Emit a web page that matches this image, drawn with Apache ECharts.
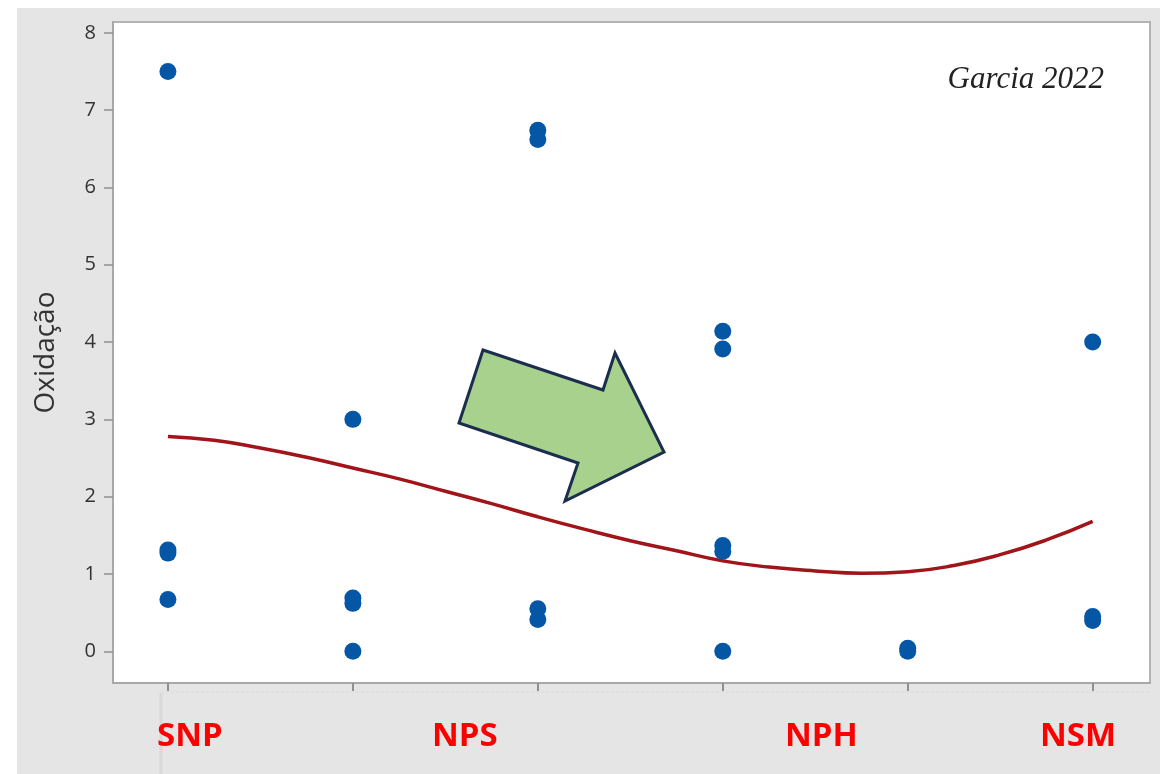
<!DOCTYPE html>
<html>
<head>
<meta charset="utf-8">
<script src="https://cdn.jsdelivr.net/npm/echarts@6/dist/echarts.min.js"></script>
<style>
  html, body { margin: 0; padding: 0; background: #fff; }
  #chart { width: 1160px; height: 774px; }
</style>
</head>
<body>
<div id="chart"></div>
<script>
// pontos observados (x = posição do grupo, y = oxidação)
var pointX = [0, 0, 0, 0, 1, 1, 1, 1, 2, 2, 2, 2, 3, 3, 3, 3, 3, 4, 4, 5, 5, 5];
var pointY = [7.5, 1.31, 1.27, 0.67, 3.0, 0.69, 0.62, 0.0, 6.74, 6.62, 0.55, 0.41,
              4.14, 3.91, 1.37, 1.29, 0.0, 0.04, 0.0, 4.0, 0.45, 0.40];
// curva ajustada
var fitX = [0, 0.25, 0.5, 0.75, 1, 1.25, 1.5, 1.75, 2, 2.25, 2.5, 2.75, 3, 3.25, 3.5, 3.75, 4, 4.25, 4.5, 4.75, 5];
var fitY = [2.78, 2.73, 2.63, 2.51, 2.37, 2.23, 2.07, 1.91, 1.74, 1.58, 1.43, 1.30, 1.17, 1.09, 1.04, 1.01, 1.03, 1.11, 1.25, 1.44, 1.68];
// eixos
var yTicks = [0, 1, 2, 3, 4, 5, 6, 7, 8];
var xTicks = [0, 1, 2, 3, 4, 5];
// rótulos dos grupos
var groups = ['SNP', 'NPS', 'NPH', 'NSM'];
var groupLeft = [157, 432, 785, 1040];

var chart = echarts.init(document.getElementById('chart'));

var pts = pointX.map(function (x, i) { return [x, pointY[i]]; });
var fit = fitX.map(function (x, i) { return [x, fitY[i]]; });

var graphics = [
  // fundo cinza
  { type: 'rect', z: -10, shape: { x: 17, y: 8, width: 1143, height: 766 }, style: { fill: '#e5e5e5' } },
  { type: 'line', z: -9, shape: { x1: 161, y1: 693, x2: 161, y2: 774 }, style: { stroke: '#d9d9d9', lineWidth: 3 } },
  { type: 'line', z: -9, shape: { x1: 161, y1: 692, x2: 1150, y2: 692 }, style: { stroke: '#dadada', lineWidth: 1, lineDash: [3, 2] } },
  // seta verde
  {
    type: 'polygon', z: 100,
    shape: { points: [[483, 350], [603, 390], [615, 353], [664, 452], [565, 501], [578, 463], [459, 423]] },
    style: { fill: '#a9d18e', stroke: '#1c2e4e', lineWidth: 3, lineJoin: 'miter' }
  },
  {
    type: 'text', z: 100, x: 1104, y: 80,
    style: { text: 'Garcia 2022', font: 'italic 31px "Liberation Serif"', fill: '#222', align: 'right', verticalAlign: 'middle' }
  }
];
groups.forEach(function (g, i) {
  graphics.push({
    type: 'text', z: 100, x: groupLeft[i], y: 737,
    style: { text: g, font: 'bold 33px "Open Sans"', fill: '#ff0000', align: 'left', verticalAlign: 'middle' }
  });
});

var option = {
  backgroundColor: '#fff',
  animation: false,
  grid: {
    left: 113, top: 22, right: 10, bottom: 91,
    show: true, backgroundColor: '#fff', borderColor: '#b3b3b3', borderWidth: 2
  },
  xAxis: {
    type: 'value', min: -0.297, max: 5.31,
    axisLine: { show: true, onZero: false, lineStyle: { color: '#a8a8a8', width: 2 } },
    axisTick: { show: true, length: 8, inside: false, customValues: xTicks, lineStyle: { color: '#909090', width: 2 } },
    axisLabel: { show: false },
    splitLine: { show: false }
  },
  yAxis: {
    type: 'value', min: -0.41, max: 8.14,
    name: 'Oxidação', nameLocation: 'middle', nameRotate: 90, nameGap: 53,
    nameTextStyle: { fontFamily: 'Open Sans', fontSize: 28, color: '#333' },
    axisLine: { show: true, onZero: false, lineStyle: { color: '#a8a8a8', width: 2 } },
    axisTick: { show: true, length: 9, customValues: yTicks, lineStyle: { color: '#909090', width: 1.5 } },
    axisLabel: { customValues: yTicks, margin: 17, fontFamily: 'Open Sans', fontSize: 20, color: '#333' },
    splitLine: { show: false }
  },
  series: [
    {
      type: 'line', data: fit, smooth: true, showSymbol: false, z: 3,
      lineStyle: { color: '#a0141a', width: 3.5 }
    },
    {
      type: 'scatter', data: pts, symbol: 'circle', symbolSize: 17, z: 4,
      itemStyle: { color: '#0656a6', opacity: 1 }
    }
  ],
  graphic: graphics
};
chart.setOption(option);
window.addEventListener('resize', function () {
  chart.resize();
});
</script>
</body>
</html>
